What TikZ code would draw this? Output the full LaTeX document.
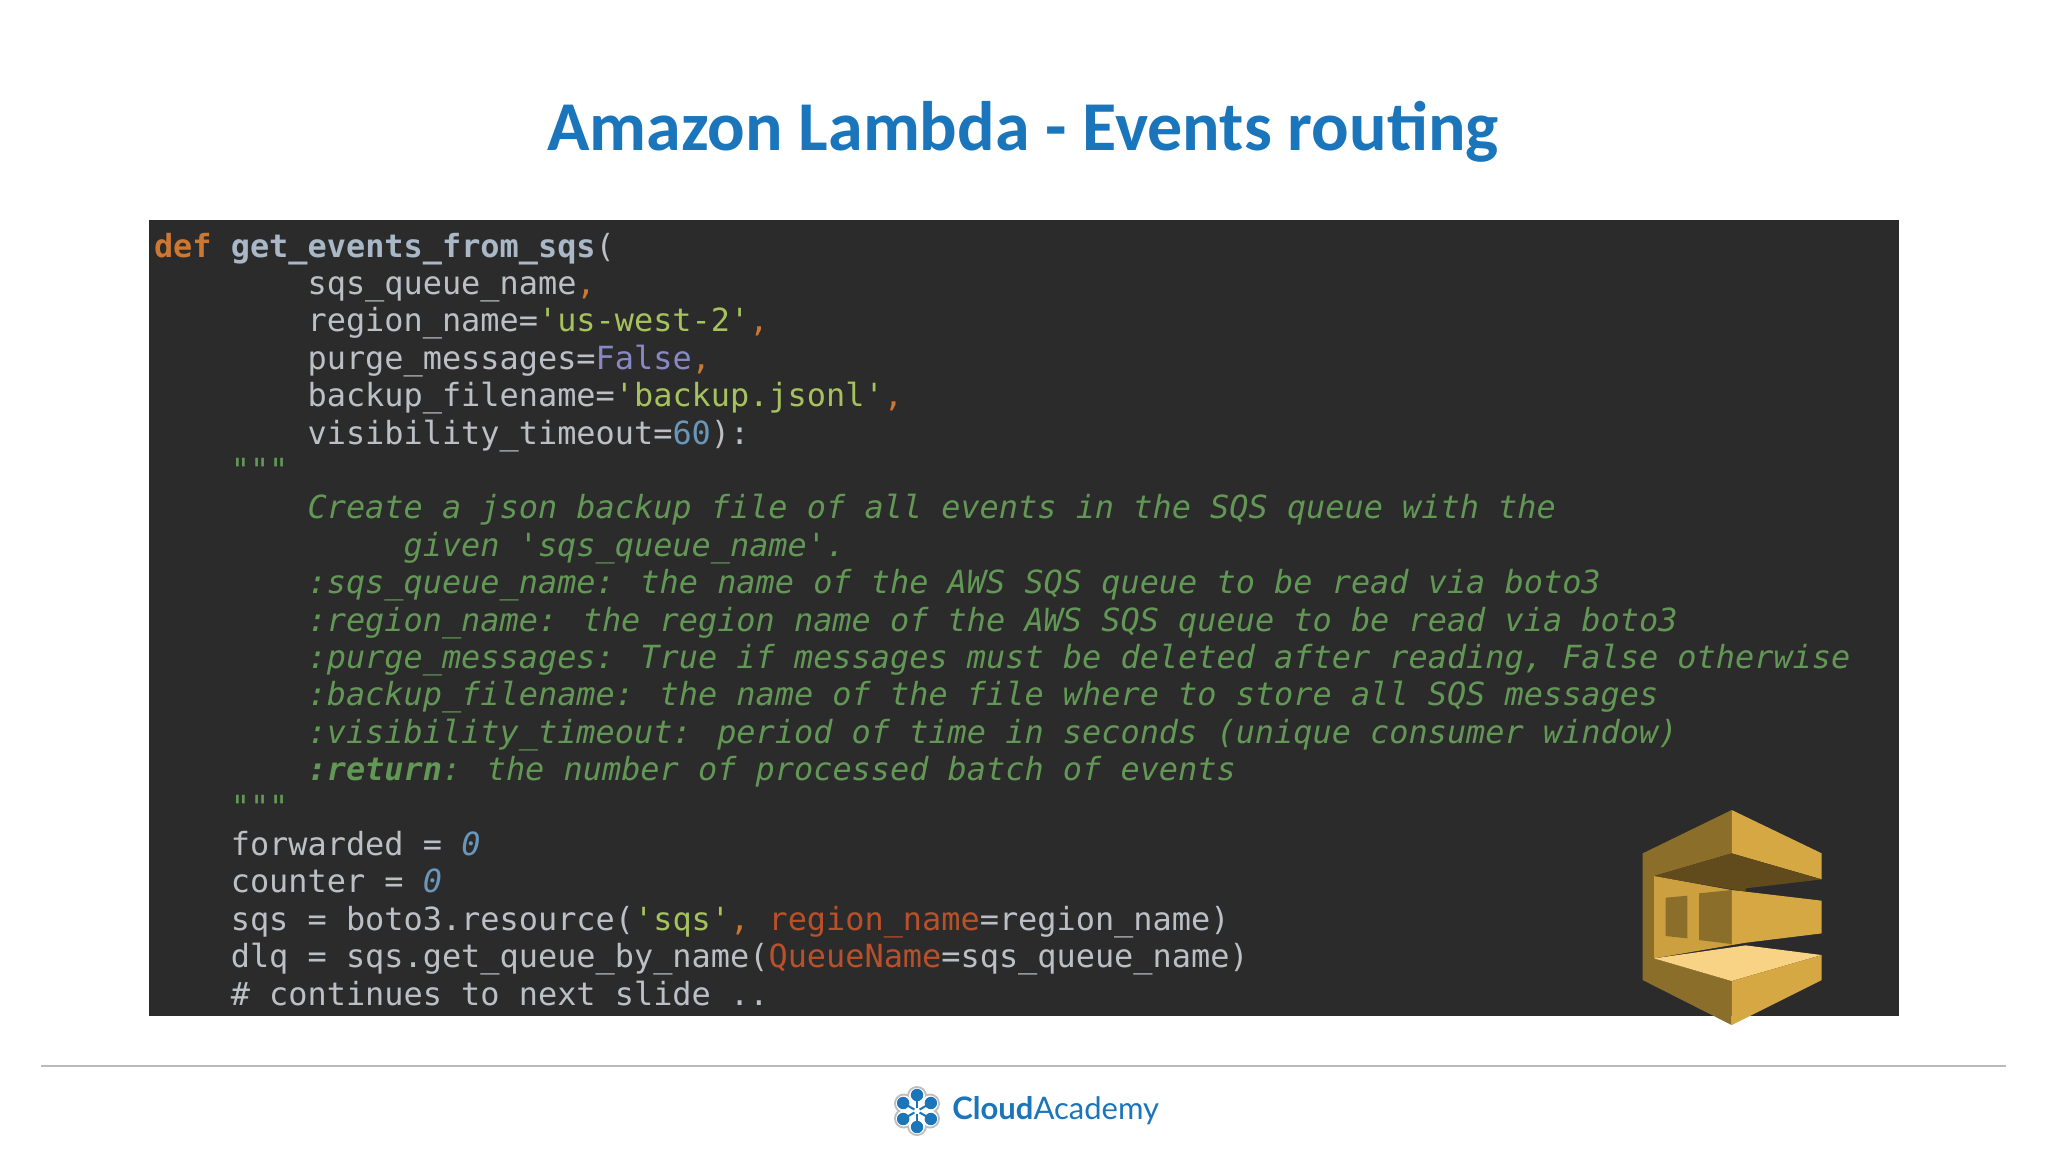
\documentclass[tikz,border=0pt]{standalone}
\usepackage{fontspec}
\setmainfont{Carlito}
\newfontfamily\codefont{DejaVu Sans Mono}
\newfontfamily\latofont{Lato}
\definecolor{panel}{HTML}{2B2B2B}
\definecolor{cplain}{HTML}{BBC0C6}
\definecolor{cname}{HTML}{A9B7C6}
\definecolor{ckey}{HTML}{CC7832}
\definecolor{cstr}{HTML}{A5C25C}
\definecolor{cbuilt}{HTML}{8888C6}
\definecolor{cnum}{HTML}{6897BB}
\definecolor{cdoc}{HTML}{629755}
\definecolor{ckw}{HTML}{B8502A}
\definecolor{brand}{HTML}{1B75BB}
\definecolor{iA}{HTML}{D6A843}
\definecolor{iB}{HTML}{8C6E2B}
\definecolor{iC}{HTML}{614A1C}
\definecolor{iD}{HTML}{F8D285}
\definecolor{iE}{HTML}{CCA03F}
\tikzset{
 x=0.5pt,y=-0.5pt,
 codeline/.style={anchor=base west,inner sep=0pt,outer sep=0pt,text=cplain,font=\codefont\fontsize{15.95}{18}\selectfont},
}
\newcommand{\K}[1]{\textcolor{ckey}{#1}}
\newcommand{\St}[1]{\textcolor{cstr}{#1}}
\newcommand{\Bu}[1]{\textcolor{cbuilt}{#1}}
\newcommand{\Nm}[1]{\textcolor{cnum}{#1}}
\newcommand{\Kw}[1]{\textcolor{ckw}{#1}}
\newcommand{\Doc}[1]{\textcolor{cdoc}{\itshape #1}}
\newcommand{\Cl}[4]{\node[codeline] (#1) at ({154+19.2*#2},{257+37.4*#3}) {#4};}
\begin{document}
\begin{tikzpicture}
\useasboundingbox (0,0) rectangle (2048,1152);
\fill[white] (0,0) rectangle (2048,1152);
\node[anchor=base,inner sep=0pt,text=brand,font=\fontsize{35}{40}\selectfont\bfseries] (title) at (1023,150) {Amazon Lambda - Events routing};
\fill[panel] (149,220) rectangle (1899,1016);
\Cl{c0}{0}{0}{\textbf{\K{def} \textcolor{cname}{get\_events\_from\_sqs}}(}
\Cl{c1}{8}{1}{sqs\_queue\_name\K{,}}
\Cl{c2}{8}{2}{region\_name=\St{'us-west-2'}\K{,}}
\Cl{c3}{8}{3}{purge\_messages=\Bu{False}\K{,}}
\Cl{c4}{8}{4}{backup\_filename=\St{'backup.jsonl'}\K{,}}
\Cl{c5}{8}{5}{visibility\_timeout=\Nm{60}):}
\Cl{c6}{4}{6}{\textcolor{cdoc}{"""}}
\Cl{c7}{8}{7}{\Doc{Create a json backup file of all events in the SQS queue with the}}
\Cl{c8}{13}{8}{\Doc{given 'sqs\_queue\_name'.}}
\Cl{c9}{8}{9}{\Doc{:sqs\_queue\_name: the name of the AWS SQS queue to be read via boto3}}
\Cl{c10}{8}{10}{\Doc{:region\_name: the region name of the AWS SQS queue to be read via boto3}}
\Cl{c11}{8}{11}{\Doc{:purge\_messages: True if messages must be deleted after reading, False otherwise}}
\Cl{c12}{8}{12}{\Doc{:backup\_filename: the name of the file where to store all SQS messages}}
\Cl{c13}{8}{13}{\Doc{:visibility\_timeout: period of time in seconds (unique consumer window)}}
\Cl{c14}{8}{14}{\Doc{\textbf{:return}: the number of processed batch of events}}
\Cl{c15}{4}{15}{\textcolor{cdoc}{"""}}
\Cl{c16}{4}{16}{forwarded = \Nm{\itshape 0}}
\Cl{c17}{4}{17}{counter = \Nm{\itshape 0}}
\Cl{c18}{4}{18}{sqs = boto3.resource(\St{'sqs'}\K{,} \Kw{region\_name}=region\_name)}
\Cl{c19}{4}{19}{dlq = sqs.get\_queue\_by\_name(\Kw{QueueName}=sqs\_queue\_name)}
\Cl{c20}{4}{20}{\# continues to next slide ..}
% SQS icon, coordinates in the 3x crop
\begin{scope}[shift={(1600,790)},x=0.1667pt,y=-0.1667pt]
\fill[iB] (395,60)--(128,190)--(128,570)--(395,705)--(395,573)--(162,505)--(162,258)--(395,190)--cycle;
\fill[iA] (395,60)--(665,190)--(665,268)--(395,190)--cycle;
\fill[iC] (395,190)--(665,268)--(437,295)--(437,305)--(162,258)--cycle;
\fill[iE] (162,258)--(395,300)--(395,465)--(162,505)--cycle;
\fill[iA] (395,300)--(437,305)--(665,332)--(665,430)--(437,458)--(395,465)--cycle;
\fill[iB] (197,323)--(262,317)--(262,445)--(197,438)--cycle;
\fill[iB] (297,310)--(395,300)--(395,462)--(297,450)--cycle;
\fill[iD] (162,505)--(437,466)--(665,495)--(395,573)--cycle;
\fill[iA] (395,573)--(665,495)--(665,570)--(395,705)--cycle;
\end{scope}
% footer
\draw[color=black!27,line width=0.8pt] (41,1066)--(2006,1066);
\begin{scope}[shift={(917,1111)}]
\foreach \a in {30,90,...,330}{\fill[black!25] (\a:15) circle[radius=10];}
\foreach \a in {30,90,...,330}{\fill[white] (\a:15) circle[radius=8];}
\fill[white] (0,0) circle[radius=14];
\foreach \a/\b in {90/150,150/210,210/270,270/330,330/30,30/90}{
 \draw[brand,line width=1pt] (\a:3)--(\a:16);
 \fill[brand] (\a:16) circle[radius=6.2];}
\end{scope}
\node[anchor=base west,inner sep=0pt,text=brand,font=\latofont\fontsize{15.5}{18}\selectfont] (logo) at (952,1119) {\textbf{Cloud}Academy};
\end{tikzpicture}
\end{document}
